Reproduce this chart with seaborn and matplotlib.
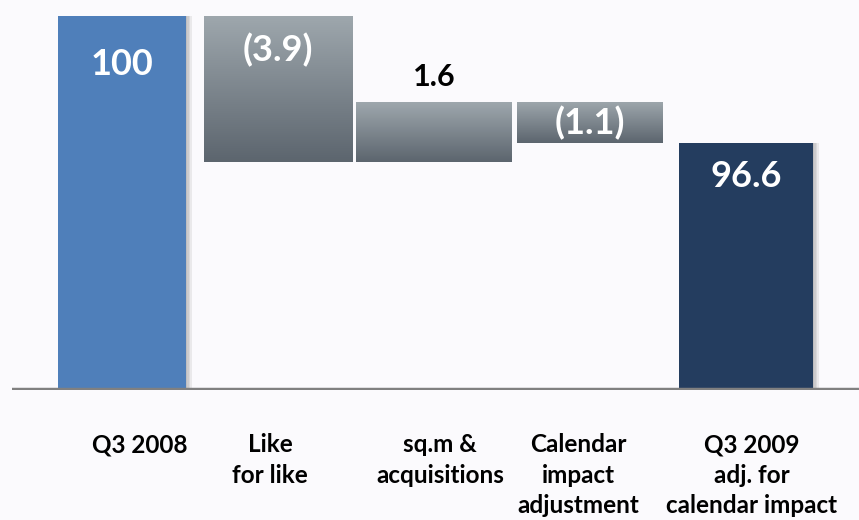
import numpy as np
import pandas as pd
import matplotlib
matplotlib.use("Agg")
import matplotlib.pyplot as plt
import seaborn as sns
import matplotlib.patheffects as pe
import matplotlib.transforms as mtransforms
from matplotlib.colors import LinearSegmentedColormap

# ---- data -------------------------------------------------------------
categories = [
    "Q3 2008",
    "Like\nfor like",
    "sq.m &\nacquisitions",
    "Calendar\nimpact\nadjustment",
    "Q3 2009\nadj. for\ncalendar impact",
]
start_value = 100.0
changes = [-3.9, 1.6, -1.1]
end_value = 96.6
value_labels = ["100", "(3.9)", "1.6", "(1.1)", "96.6"]
axis_floor = 90.0

# ---- waterfall geometry ---------------------------------------------------
levels = np.concatenate([[start_value], start_value + np.cumsum(changes)])
bottoms = [axis_floor] + [min(levels[i], levels[i + 1]) for i in range(len(changes))] + [axis_floor]
tops = [start_value] + [max(levels[i], levels[i + 1]) for i in range(len(changes))] + [end_value]
heights = np.array(tops) - np.array(bottoms)
df = pd.DataFrame({"step": categories, "height": heights, "bottom": bottoms})

# ---- style ----------------------------------------------------------------
sns.set_theme(style="white")
plt.rcParams["font.family"] = ["Lato", "DejaVu Sans"]

fig = plt.figure(figsize=(8.59, 5.2), dpi=100)
fig.patch.set_facecolor("#fbfafd")
ax = fig.add_axes([12 / 859, 130 / 520, 847 / 859, 375 / 520])
ax.set_facecolor("none")

sns.barplot(data=df, x="step", y="height", bottom=df["bottom"].to_numpy(),
            color="#4f7fba", width=0.9, ax=ax, zorder=2)

bar_widths = [0.82, 0.95, 1.0, 0.93, 0.86]
solid_colors = {0: "#4f7fba", 4: "#243d5f"}
steel = LinearSegmentedColormap.from_list("steel", ["#5c656e", "#9ea7ad"])
shadow = [pe.SimplePatchShadow(offset=(k, 0), shadow_rgbFace="#555555", alpha=0.10)
          for k in (1, 2, 3, 4)] + [pe.Normal()]

for i, p in enumerate(ax.patches):
    p.set_x(i - bar_widths[i] / 2)
    p.set_width(bar_widths[i])
    p.set_edgecolor("none")
    if i in solid_colors:
        p.set_facecolor(solid_colors[i])
        p.set_path_effects(shadow)
    else:
        x0, y0, w, h = p.get_x(), p.get_y(), p.get_width(), p.get_height()
        grad = np.linspace(0, 1, 256).reshape(-1, 1)
        im = ax.imshow(grad, extent=[x0, x0 + w, y0, y0 + h], origin="lower",
                       cmap=steel, aspect="auto", zorder=2.5, interpolation="bilinear")
        im.set_clip_path(p)

# value labels: white inside the bar, black above a rising step
label_drop = [1.3, 0.9, 0.0, 0.9, 0.9]
for i, lab in enumerate(value_labels):
    top, bot = tops[i], bottoms[i]
    if 0 < i < len(value_labels) - 1 and changes[i - 1] > 0:
        ax.text(i, top + 0.3, lab, ha="center", va="bottom", fontsize=22,
                fontweight="bold", color="black", zorder=5)
    else:
        y = max((top + bot) / 2, top - label_drop[i])
        ax.text(i, y, lab, ha="center", va="center", fontsize=26,
                fontweight="bold", color="white", zorder=5)

# baseline
ax.axhline(axis_floor, color="#808080", lw=3.2, zorder=4)

ax.set_xlim(-110 / 156, 737 / 156)
ax.set_ylim(axis_floor, start_value + 0.03)
ax.set_xticks([])
ax.set_yticks([])
ax.set_xlabel("")
ax.set_ylabel("")
for s in ax.spines.values():
    s.set_visible(False)

# category labels beneath the baseline
label_shift_px = [18, -8, 6, -12, 6]
for i, cat in enumerate(categories):
    tr = ax.get_xaxis_transform() + mtransforms.ScaledTranslation(
        label_shift_px[i] / 100, 0, fig.dpi_scale_trans)
    ax.text(i, -0.115, cat, transform=tr, ha="center", va="top", fontsize=17.5,
            fontweight="bold", color="black", linespacing=1.4)

fig.savefig("out.png", dpi=100, facecolor=fig.get_facecolor())
